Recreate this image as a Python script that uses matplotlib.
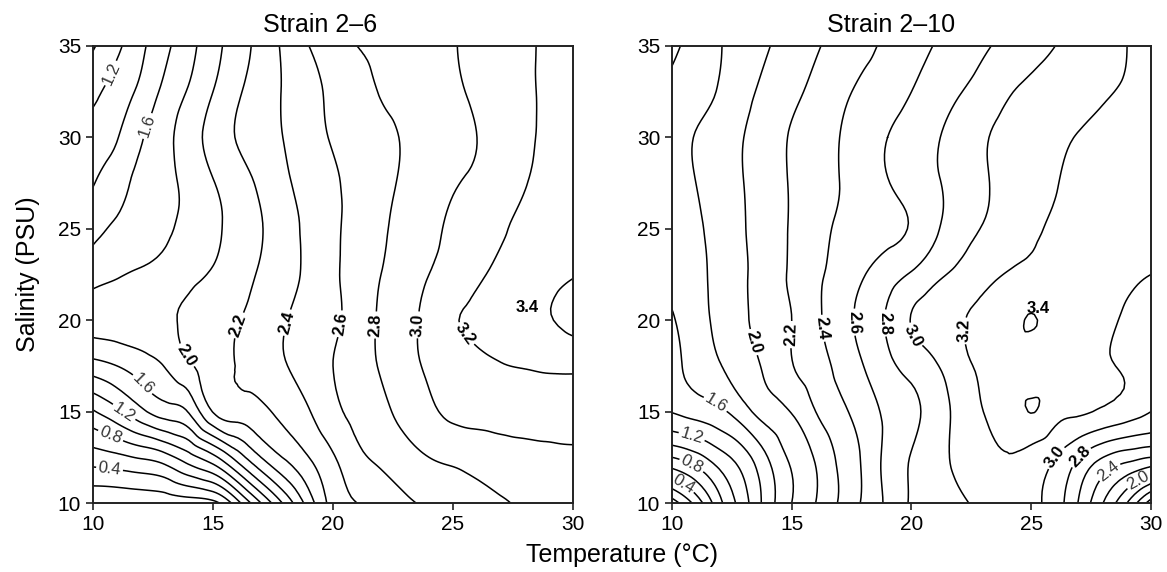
import numpy as np
import matplotlib
matplotlib.use("Agg")
import matplotlib.pyplot as plt
import matplotlib.tri as mtri

plt.rcParams['font.family'] = ['Liberation Sans', 'DejaVu Sans']

# grid: temperature (°C) columns, salinity (PSU) rows
temp = np.arange(10, 31, 1)
sal = np.arange(10, 35.1, 2.5)

# Strain 2-6, rows from salinity 10 (bottom) to 35 (top)
z_26 = [
    [0.02, 0.03, 0.06, 0.08, 0.10, 0.14, 0.52, 1.00, 1.45, 1.90, 2.28, 2.40, 2.49, 2.57, 2.63, 2.68, 2.73, 2.78, 2.83, 2.87, 2.90],
    [0.50, 0.55, 0.62, 0.72, 0.92, 1.14, 1.48, 1.80, 2.02, 2.20, 2.38, 2.55, 2.64, 2.72, 2.80, 2.84, 2.88, 2.92, 2.94, 2.96, 2.97],
    [0.98, 1.15, 1.35, 1.50, 1.62, 2.01, 2.10, 2.16, 2.26, 2.39, 2.55, 2.65, 2.75, 2.86, 2.96, 3.04, 3.06, 3.07, 3.08, 3.08, 3.08],
    [1.52, 1.60, 1.70, 1.81, 1.97, 2.09, 2.21, 2.30, 2.39, 2.50, 2.60, 2.69, 2.82, 2.93, 3.03, 3.10, 3.15, 3.19, 3.21, 3.23, 3.24],
    [1.88, 1.90, 1.93, 1.97, 2.04, 2.12, 2.19, 2.28, 2.39, 2.49, 2.57, 2.68, 2.83, 2.94, 3.06, 3.18, 3.24, 3.29, 3.34, 3.39, 3.45],
    [1.72, 1.78, 1.83, 1.88, 1.95, 2.02, 2.12, 2.22, 2.32, 2.45, 2.57, 2.68, 2.80, 2.90, 3.00, 3.08, 3.17, 3.24, 3.30, 3.35, 3.39],
    [1.55, 1.63, 1.69, 1.77, 1.85, 1.95, 2.08, 2.19, 2.32, 2.45, 2.57, 2.66, 2.77, 2.86, 2.95, 3.04, 3.12, 3.18, 3.25, 3.30, 3.35],
    [1.39, 1.52, 1.66, 1.75, 1.86, 1.99, 2.11, 2.24, 2.37, 2.47, 2.57, 2.66, 2.74, 2.83, 2.90, 2.98, 3.04, 3.11, 3.19, 3.28, 3.34],
    [1.28, 1.39, 1.58, 1.74, 1.91, 2.07, 2.21, 2.31, 2.41, 2.52, 2.62, 2.70, 2.75, 2.82, 2.88, 2.94, 3.00, 3.08, 3.17, 3.23, 3.27],
    [1.15, 1.29, 1.45, 1.65, 1.82, 2.00, 2.17, 2.30, 2.42, 2.54, 2.64, 2.73, 2.81, 2.86, 2.91, 2.97, 3.03, 3.10, 3.17, 3.23, 3.27],
    [0.98, 1.16, 1.36, 1.55, 1.74, 1.93, 2.10, 2.27, 2.44, 2.60, 2.70, 2.80, 2.84, 2.89, 2.94, 2.99, 3.05, 3.11, 3.17, 3.23, 3.26],
]

# Strain 2-10
z_210 = [
    [-0.10, 0.27, 0.75, 1.12, 1.50, 1.80, 2.00, 2.22, 2.43, 2.64, 2.82, 2.90, 2.97, 3.04, 3.07, 3.04, 2.90, 2.58, 2.20, 1.80, 1.30],
    [0.80, 0.93, 1.12, 1.32, 1.60, 1.84, 2.02, 2.24, 2.43, 2.66, 2.81, 2.93, 3.04, 3.12, 3.19, 3.12, 3.00, 2.80, 2.60, 2.48, 2.40],
    [1.41, 1.48, 1.56, 1.73, 1.90, 2.01, 2.20, 2.35, 2.50, 2.64, 2.75, 2.90, 3.06, 3.20, 3.28, 3.405, 3.28, 3.23, 3.17, 3.10, 3.00],
    [1.55, 1.67, 1.79, 1.92, 2.04, 2.19, 2.31, 2.45, 2.60, 2.75, 2.87, 2.98, 3.13, 3.24, 3.30, 3.32, 3.32, 3.28, 3.22, 3.18, 3.10],
    [1.58, 1.72, 1.85, 1.97, 2.10, 2.20, 2.36, 2.50, 2.67, 2.82, 3.01, 3.10, 3.18, 3.25, 3.32, 3.408, 3.34, 3.30, 3.24, 3.18, 3.12],
    [1.66, 1.75, 1.86, 1.98, 2.10, 2.23, 2.36, 2.47, 2.59, 2.71, 2.82, 2.95, 3.05, 3.14, 3.21, 3.26, 3.28, 3.28, 3.26, 3.23, 3.20],
    [1.68, 1.77, 1.87, 1.99, 2.10, 2.22, 2.33, 2.43, 2.50, 2.54, 2.62, 2.77, 2.92, 3.01, 3.09, 3.17, 3.22, 3.26, 3.29, 3.30, 3.30],
    [1.70, 1.80, 1.90, 2.00, 2.10, 2.22, 2.31, 2.40, 2.50, 2.59, 2.69, 2.78, 2.88, 2.98, 3.05, 3.12, 3.19, 3.25, 3.29, 3.31, 3.32],
    [1.70, 1.81, 1.90, 2.00, 2.10, 2.22, 2.31, 2.40, 2.50, 2.60, 2.69, 2.78, 2.88, 2.98, 3.05, 3.10, 3.16, 3.21, 3.25, 3.28, 3.30],
    [1.64, 1.72, 1.82, 1.95, 2.05, 2.15, 2.25, 2.35, 2.44, 2.51, 2.60, 2.70, 2.79, 2.88, 2.98, 3.04, 3.09, 3.13, 3.18, 3.22, 3.27],
    [1.57, 1.66, 1.79, 1.89, 1.99, 2.09, 2.18, 2.27, 2.35, 2.44, 2.52, 2.61, 2.69, 2.77, 2.86, 2.93, 3.00, 3.07, 3.13, 3.20, 3.27],
]

levels = np.round(np.arange(0.0, 3.41, 0.2), 1)

# label placements (temperature, salinity): thin ones first, then bold ones
thin_26 = [(10.6, 33.6), (12.1, 30.7), (12.3, 16.8), (11.4, 15.2), (10.8, 13.9), (10.7, 12.0)]
bold_26 = [(14.25, 18.4), (16.3, 19.6), (18.6, 19.7), (20.8, 19.7), (22.3, 19.7),
           (24.0, 19.7), (25.7, 19.5)]
thin_210 = [(11.9, 15.6), (10.9, 14.0), (10.9, 12.3), (10.5, 11.1), (28.2, 11.8), (29.4, 11.4)]
bold_210 = [(13.7, 18.9), (15.2, 19.2), (16.6, 19.6), (17.9, 19.9), (19.2, 19.85),
            (20.6, 19.5), (22.4, 19.4), (25.9, 12.6), (27.0, 12.6)]

fig = plt.figure(figsize=(11.67, 5.72), dpi=100)
ax1 = fig.add_axes([0.0797, 0.1206, 0.4113, 0.799])
ax2 = fig.add_axes([0.5758, 0.1206, 0.4105, 0.799])

panels = [
    (ax1, z_26, 'Strain 2–6', 0.474, thin_26, bold_26, (28.1, 20.7)),
    (ax2, z_210, 'Strain 2–10', 0.457, thin_210, bold_210, (25.3, 20.65)),
]

T, S = np.meshgrid(temp, sal)
tri = mtri.Triangulation(T.ravel(), S.ravel())
refiner = mtri.UniformTriRefiner(tri)

for ax, z, title, tx, thin, bold, lab34 in panels:
    tri_f, z_f = refiner.refine_field(np.array(z).ravel(), subdiv=3)
    cs = ax.tricontour(tri_f, z_f, levels=levels, colors='black', linewidths=1.1)
    labs = ax.clabel(cs, manual=thin + bold, fmt='%.1f', fontsize=12,
                     inline=True, inline_spacing=2)
    for i, t in enumerate(labs):
        if i < len(thin):
            t.set_color('#333333')
        else:
            t.set_fontweight('bold')
    ax.text(lab34[0], lab34[1], '3.4', fontsize=12, fontweight='bold', ha='center', va='center')
    ax.set_xlim(10, 30)
    ax.set_ylim(10, 35)
    ax.set_xticks([10, 15, 20, 25, 30])
    ax.set_yticks([10, 15, 20, 25, 30, 35])
    ax.tick_params(direction='out', length=5, width=1.2, labelsize=15, color='#222222')
    for sp in ax.spines.values():
        sp.set_linewidth(1.4)
        sp.set_color('#222222')
    ax.set_title(title, fontsize=18, pad=10, x=tx)

ax1.set_ylabel('Salinity (PSU)', fontsize=18)
ax1.yaxis.set_label_coords(-0.11, 0.5)
fig.text(0.533, 0.03, 'Temperature (°C)', fontsize=18, ha='center', va='center')

fig.savefig('out.png', dpi=100)
